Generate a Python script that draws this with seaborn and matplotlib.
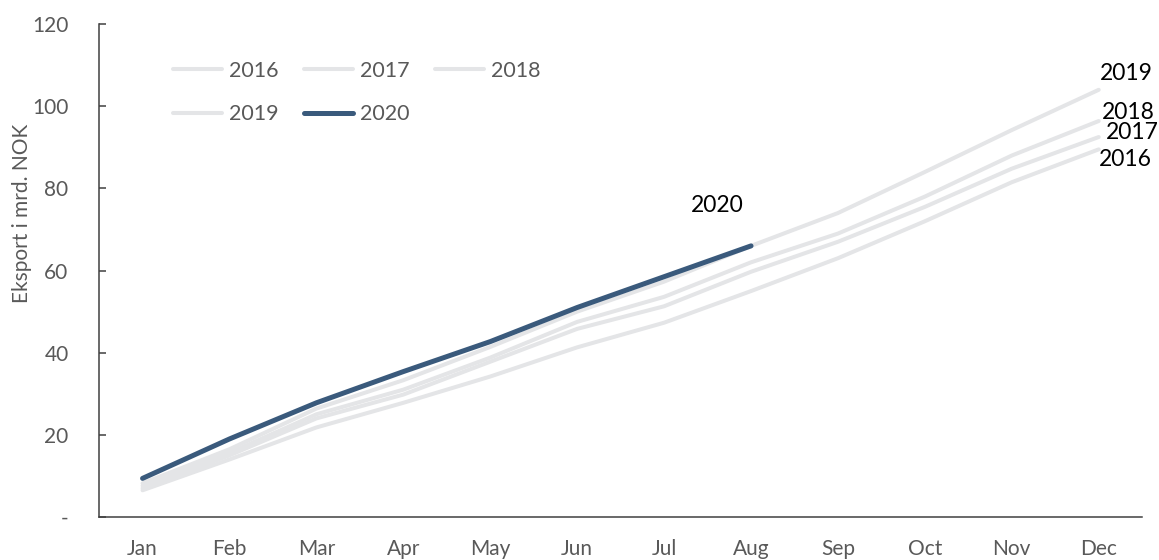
import numpy as np
import pandas as pd
import seaborn as sns
from matplotlib import pyplot as plt
from matplotlib.lines import Line2D

# Cumulative export per month, bn NOK
months = ["Jan", "Feb", "Mar", "Apr", "May", "Jun",
          "Jul", "Aug", "Sep", "Oct", "Nov", "Dec"]
years = ["2016", "2017", "2018", "2019", "2020"]
exp_2016 = [6.5, 14.0, 21.8, 27.8, 34.2, 41.3, 47.3, 55.0, 63.0, 72.0, 81.5, 89.5]
exp_2017 = [7.0, 15.0, 24.0, 29.8, 37.8, 45.8, 51.3, 59.7, 67.0, 75.5, 84.8, 92.5]
exp_2018 = [7.6, 15.6, 25.0, 31.0, 38.8, 47.5, 53.6, 62.0, 69.0, 78.0, 88.0, 96.4]
exp_2019 = [8.2, 16.5, 26.4, 33.3, 41.4, 50.0, 57.3, 66.0, 74.0, 84.0, 94.2, 104.0]
exp_2020 = [9.4, 19.0, 27.8, 35.4, 42.7, 51.0, 58.5, 66.0]

series = {
    "2016": exp_2016,
    "2017": exp_2017,
    "2018": exp_2018,
    "2019": exp_2019,
    "2020": exp_2020,
}

rows = []
for yr, vals in series.items():
    for m, v in zip(months, vals):
        rows.append({"month": m, "value": v, "year": yr})
df = pd.DataFrame(rows)

GREY = "#E4E5E7"
DARK = "#3A5A7C"
TXT = "#595959"
palette = {"2016": GREY, "2017": GREY, "2018": GREY, "2019": GREY, "2020": DARK}
widths = {"2016": 2.9, "2017": 2.9, "2018": 2.9, "2019": 2.9, "2020": 3.6}

sns.set_theme(style="white")
plt.rcParams["font.family"] = ["Lato", "DejaVu Sans"]

fig = plt.figure(figsize=(11.59, 5.6), dpi=100)
ax = fig.add_axes([0.0855, 0.0768, 0.9, 0.8802])

sns.lineplot(
    data=df, x="month", y="value", hue="year", size="year",
    palette=palette, sizes=widths, hue_order=years, size_order=years,
    sort=False, legend=False, ax=ax,
)
for ln in ax.get_lines():
    ln.set_solid_capstyle("round")
# keep 2020 on top
ax.get_lines()[-1].set_zorder(5)

ax.set_xlim(-0.5, 11.5)
ax.set_ylim(0, 120)
ax.set_yticks([0, 20, 40, 60, 80, 100, 120])
ax.set_yticklabels(["-", "20", "40", "60", "80", "100", "120"])
ax.set_xlabel("")
ax.set_ylabel("Eksport i mrd. NOK", fontsize=15, color=TXT)
ax.yaxis.set_label_coords(-0.064, 0.615)

sns.despine(ax=ax)
for s in ("left", "bottom"):
    ax.spines[s].set_color("#404040")
    ax.spines[s].set_linewidth(1.1)
ax.tick_params(axis="y", direction="in", length=5, width=1.1, color="#404040",
               pad=22, labelsize=15, labelcolor=TXT, left=True)
ax.tick_params(axis="x", length=0, pad=16, labelsize=15, labelcolor=TXT)

# end labels
offsets = {"2016": (19, -7), "2017": (24, 3), "2018": (21, 6), "2019": (20, 12)}
for yr, (dx, dy) in offsets.items():
    vals = series[yr]
    ax.annotate(yr, xy=(len(vals) - 1, vals[-1]), xytext=(dx, dy),
                textcoords="offset points", ha="center", va="center",
                fontsize=16.5, color="black", annotation_clip=False)
ax.annotate("2020", xy=(len(exp_2020) - 1, exp_2020[-1]), xytext=(-24, 29),
            textcoords="offset points", ha="center", va="center",
            fontsize=16.5, color="black")

# legend, row-major order like the original
order = ["2016", "2019", "2017", "2020", "2018"]
handles = [Line2D([], [], color=palette[y], lw=widths[y], solid_capstyle="round")
           for y in order]
leg = ax.legend(handles, order, ncol=3, frameon=False, loc="upper left",
                bbox_to_anchor=(0.052, 0.965), fontsize=15.5,
                handlelength=2.3, handletextpad=0.33, columnspacing=1.15,
                labelspacing=1.1, labelcolor=TXT)

fig.savefig("out.png", dpi=100)
